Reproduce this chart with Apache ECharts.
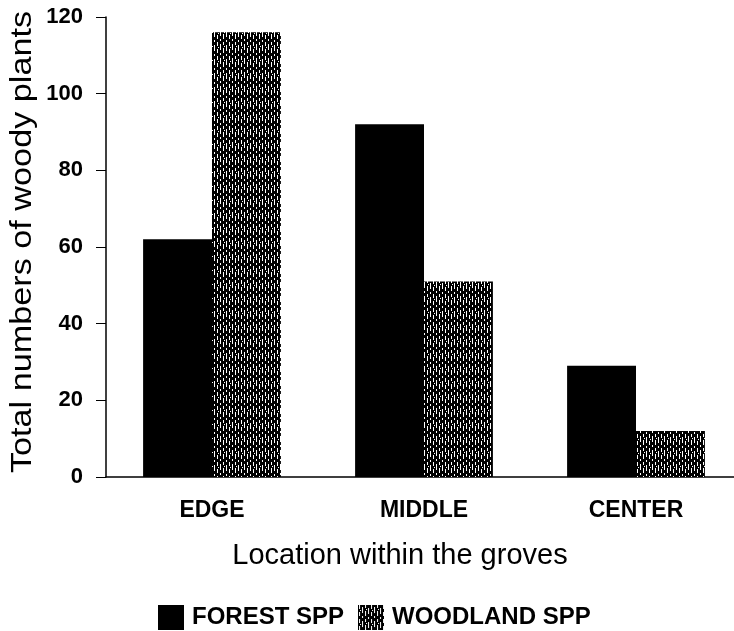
<!DOCTYPE html>
<html>
<head>
<meta charset="utf-8">
<script src="https://cdn.jsdelivr.net/npm/echarts@6/dist/echarts.min.js"></script>
<style>html,body{margin:0;padding:0;background:#fff}#c{width:734px;height:631px}</style>
</head>
<body>
<div id="c"></div>
<script>
const categories = ['EDGE', 'MIDDLE', 'CENTER'];
const forestValues = [62, 92, 29];
const woodlandValues = [116, 51, 12];
const yTicks = [0, 20, 40, 60, 80, 100, 120];
const yTitle = 'Total numbers of woody plants';
const xTitle = 'Location within the groves';

function makePattern() {
  const c = document.createElement('canvas');
  c.width = 12; c.height = 14;
  const g = c.getContext('2d');
  g.fillStyle = '#000';
  g.fillRect(0, 0, 12, 14);
  g.fillStyle = '#fff';
  g.fillRect(1, 0, 1, 4);
  g.fillRect(4, 2, 1, 6);
  g.fillRect(7, 0, 1, 3);
  g.fillRect(7, 6, 1, 5);
  g.fillRect(10, 3, 1, 6);
  g.fillRect(1, 7, 1, 4);
  g.fillRect(4, 11, 1, 2);
  g.fillRect(10, 12, 1, 2);
  g.fillRect(2, 5, 1, 1);
  g.fillRect(8, 4, 1, 1);
  return c;
}
const pattern = { image: makePattern(), repeat: 'repeat' };

const chart = echarts.init(document.getElementById('c'));
chart.setOption({
  animation: false,
  backgroundColor: '#fff',
  grid: { left: 106, top: 17, bottom: 631 - 477, right: -8, outerBoundsMode: 'none', containLabel: false },
  legend: {
    left: 153, top: 600,
    itemWidth: 26, itemHeight: 25, itemGap: 14,
    icon: 'rect',
    textStyle: { fontFamily: 'Liberation Sans', fontWeight: 'bold', fontSize: 24, color: '#000', padding: [2, 0, 0, 3] },
    data: ['FOREST SPP', 'WOODLAND SPP']
  },
  xAxis: {
    type: 'category',
    data: categories,
    axisLine: { lineStyle: { color: '#000', width: 1.5 } },
    axisTick: { show: false },
    axisLabel: { fontFamily: 'Liberation Sans', fontWeight: 'bold', fontSize: 23, color: '#000', margin: 22 }
  },
  yAxis: {
    type: 'value',
    min: 0, max: 120, interval: 20,
    splitLine: { show: false },
    axisLine: { show: true, lineStyle: { color: '#000', width: 1.5 } },
    axisTick: { show: true, length: 10, lineStyle: { color: '#000' } },
    axisLabel: {
      fontFamily: 'Liberation Sans', fontWeight: 'bold', fontSize: 22, color: '#000', margin: 23,
      formatter: v => yTicks.includes(v) ? String(v) : ''
    }
  },
  graphic: [
    {
      type: 'text', x: 23, y: 242, rotation: Math.PI / 2, scaleX: 1.18,
      style: { text: yTitle, fontFamily: 'Liberation Sans', fontSize: 29, fill: '#000', align: 'center', verticalAlign: 'middle' }
    },
    {
      type: 'text', x: 400, y: 556,
      style: { text: xTitle, fontFamily: 'Liberation Sans', fontSize: 29, fill: '#000', align: 'center', verticalAlign: 'middle' }
    }
  ],
  series: [
    { name: 'FOREST SPP', type: 'bar', data: forestValues, barGap: '0%', barCategoryGap: '35%',
      itemStyle: { color: '#000' } },
    { name: 'WOODLAND SPP', type: 'bar', data: woodlandValues,
      itemStyle: { color: pattern } }
  ]
});
</script>
</body>
</html>
